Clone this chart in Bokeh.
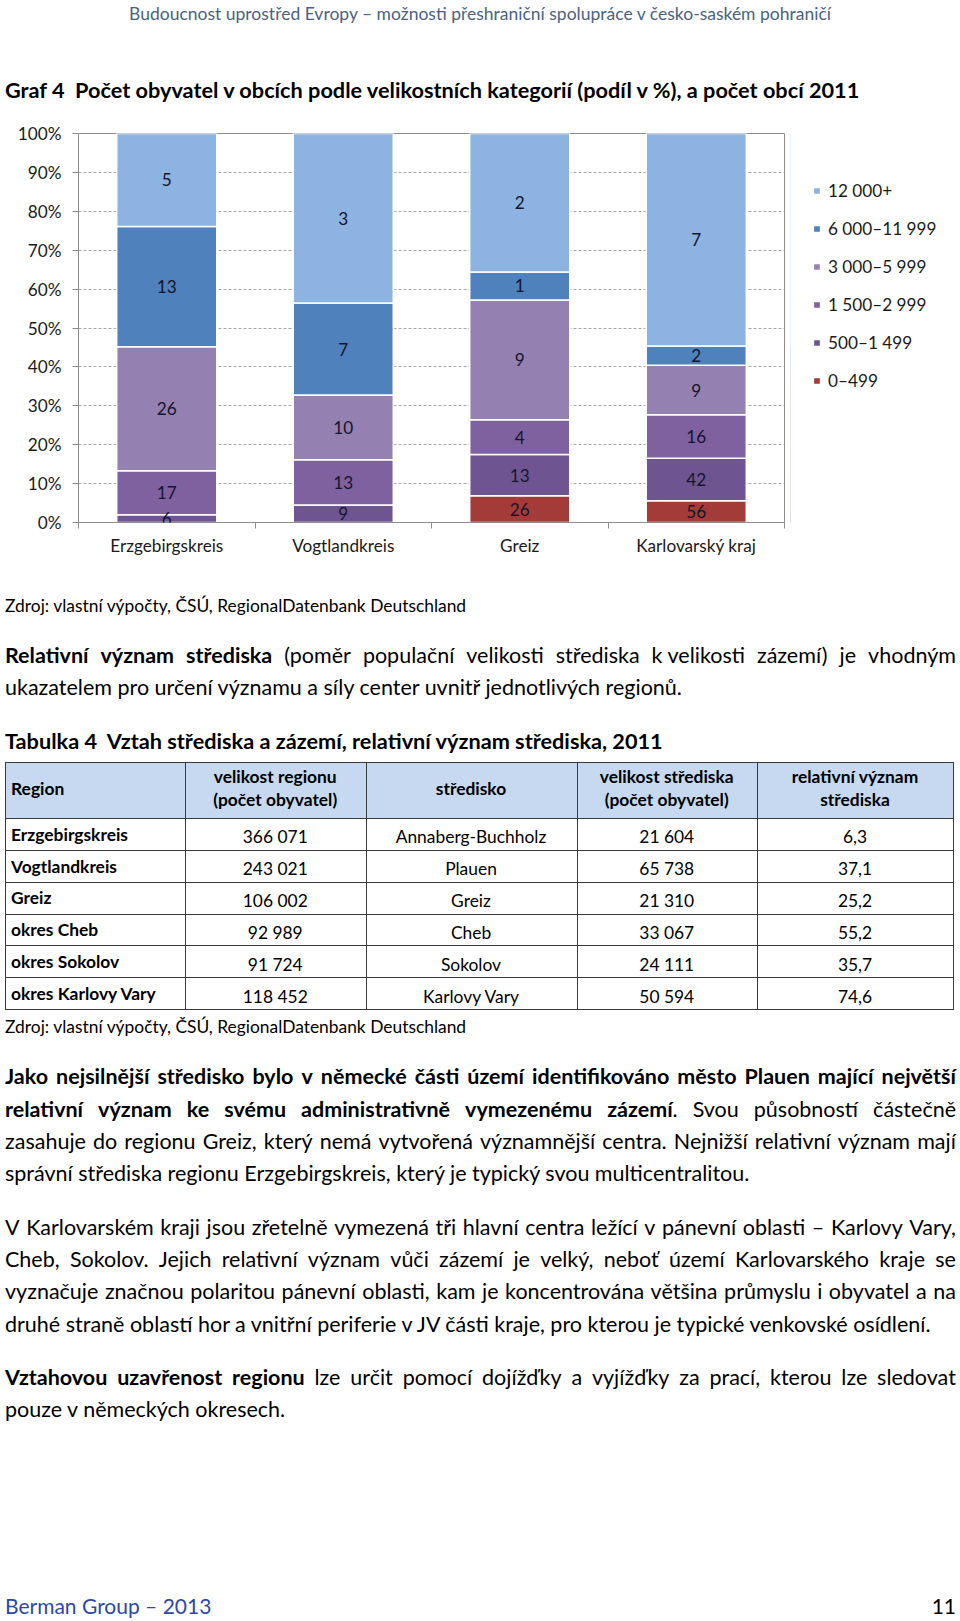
import numpy as np
from bokeh.plotting import figure
from bokeh.models import (ColumnDataSource, Range1d, FixedTicker, PrintfTickFormatter,
                          Legend, LegendItem, LabelSet, Div)
from bokeh.layouts import column, row
from bokeh.core.properties import value
from bokeh.embed import file_html
from bokeh.resources import INLINE

# ---------------- chart data ----------------
categories = ["Erzgebirgskreis", "Vogtlandkreis", "Greiz", "Karlovarský kraj"]
size_classes = ["0–499", "500–1 499", "1 500–2 999", "3 000–5 999", "6 000–11 999", "12 000+"]

# share of population (%) by municipality size class
share_0_499 = [0.0, 0.0, 6.9, 5.6]
share_500_1499 = [2.0, 4.5, 10.6, 10.9]
share_1500_2999 = [11.3, 11.6, 8.9, 11.2]
share_3000_5999 = [31.9, 16.7, 30.8, 12.7]
share_6000_11999 = [30.9, 23.6, 7.2, 5.0]
share_12000 = [23.9, 43.6, 35.6, 54.6]

# number of municipalities by size class
count_0_499 = [0, 0, 26, 56]
count_500_1499 = [6, 9, 13, 42]
count_1500_2999 = [17, 13, 4, 16]
count_3000_5999 = [26, 10, 9, 9]
count_6000_11999 = [13, 7, 1, 2]
count_12000 = [5, 3, 2, 7]

y_ticks = [0, 10, 20, 30, 40, 50, 60, 70, 80, 90, 100]

# ---------------- table data ----------------
table_header = [["Region"], ["velikost regionu", "(počet obyvatel)"], ["středisko"],
                ["velikost střediska", "(počet obyvatel)"], ["relativní význam", "střediska"]]
regions = ["Erzgebirgskreis", "Vogtlandkreis", "Greiz", "okres Cheb", "okres Sokolov", "okres Karlovy Vary"]
region_pop = ["366 071", "243 021", "106 002", "92 989", "91 724", "118 452"]
centres = ["Annaberg-Buchholz", "Plauen", "Greiz", "Cheb", "Sokolov", "Karlovy Vary"]
centre_pop = ["21 604", "65 738", "21 310", "33 067", "24 111", "50 594"]
rel_importance = ["6,3", "37,1", "25,2", "55,2", "35,7", "74,6"]

# ---------------- texts ----------------
header_text = "Budoucnost uprostřed Evropy – možnosti přeshraniční spolupráce v česko-saském pohraničí"
chart_title = "Graf 4  Počet obyvatel v obcích podle velikostních kategorií (podíl v %), a počet obcí 2011"
source_text = "Zdroj: vlastní výpočty, ČSÚ, RegionalDatenbank Deutschland"
table_title = "Tabulka 4  Vztah střediska a zázemí, relativní význam střediska, 2011"
para1 = [("**Relativní význam střediska** (poměr populační velikosti střediska k\u00a0velikosti zázemí) je vhodným", True),
         ("ukazatelem pro určení významu a síly center uvnitř jednotlivých regionů.", False)]
para2 = [("**Jako nejsilnější středisko bylo v německé části území identifikováno město Plauen mající největší**", True),
         ("**relativní význam ke svému administrativně vymezenému zázemí**. Svou působností částečně", True),
         ("zasahuje do regionu Greiz, který nemá vytvořená významnější centra. Nejnižší relativní význam mají", True),
         ("správní střediska regionu Erzgebirgskreis, který je typický svou multicentralitou.", False)]
para3 = [("V Karlovarském kraji jsou zřetelně vymezená tři hlavní centra ležící v pánevní oblasti – Karlovy Vary,", True),
         ("Cheb, Sokolov. Jejich relativní význam vůči zázemí je velký, neboť území Karlovarského kraje se", True),
         ("vyznačuje značnou polaritou pánevní oblasti, kam je koncentrována většina průmyslu i obyvatel a na", True),
         ("druhé straně oblastí hor a vnitřní periferie v JV části kraje, pro kterou je typické venkovské osídlení.", False)]
para4 = [("**Vztahovou uzavřenost regionu** lze určit pomocí dojížďky a vyjížďky za prací, kterou lze sledovat", True),
         ("pouze v německých okresech.", False)]
footer_left = "Berman Group – 2013"
footer_right = "11"

FONT = "Lato"
CFS = "17.2px"   # chart font size
colors = ["#a33b38", "#6e5591", "#7f61a0", "#9480b1", "#4f81bd", "#8db3e2"]
W = 960
CH = 460          # chart row height
PW = 790          # chart figure width

# ---------------- chart ----------------
share_series = [share_0_499, share_500_1499, share_1500_2999, share_3000_5999, share_6000_11999, share_12000]
count_series = [count_0_499, count_500_1499, count_1500_2999, count_3000_5999, count_6000_11999, count_12000]
keys = ["s%d" % i for i in range(len(size_classes))]
n = len(categories)
xpos = np.arange(n) + 0.5
data = {"x": xpos}
for k, s in zip(keys, share_series):
    data[k] = s
src = ColumnDataSource(data)

p = figure(width=PW, height=CH, x_range=Range1d(0, n), y_range=Range1d(0, 100),
           output_backend="svg", toolbar_location=None,
           min_border_left=78, min_border_right=PW - 78 - 706, min_border_top=23, min_border_bottom=48)
p.background_fill_color = "white"
p.border_fill_color = "white"
p.outline_line_color = "#8c8c8c"

rends = p.vbar_stack(keys, x="x", width=0.567, fill_color=colors, line_color="white",
                     line_width=1.5, source=src)

lx, ly, lt = [], [], []
cum = np.zeros(n)
for shares, counts in zip(share_series, count_series):
    sh = np.array(shares, dtype=float)
    for i in range(n):
        if counts[i] > 0:
            lx.append(xpos[i]); ly.append(cum[i] + sh[i] / 2.0); lt.append(str(counts[i]))
    cum += sh
lsrc = ColumnDataSource(dict(x=lx, y=ly, t=lt))
p.add_layout(LabelSet(x="x", y="y", text="t", source=lsrc, text_align="center", text_baseline="middle",
                      text_font=value(FONT), text_font_size=CFS, text_color="#15152a"))

yax = p.yaxis[0]
yax.ticker = FixedTicker(ticks=y_ticks)
yax.formatter = PrintfTickFormatter(format="%d%%")
yax.axis_line_color = "#8c8c8c"
yax.major_tick_line_color = "#8c8c8c"
yax.major_tick_out = 6
yax.major_tick_in = 0
yax.minor_tick_line_color = None
yax.major_label_standoff = 11
yax.major_label_text_font = FONT
yax.major_label_text_font_size = CFS
yax.major_label_text_color = "#1a1a1a"

xax = p.xaxis[0]
xax.ticker = FixedTicker(ticks=list(xpos), minor_ticks=list(range(n + 1)))
xax.major_label_overrides = {float(xv): c for xv, c in zip(xpos, categories)}
xax.axis_line_color = "#8c8c8c"
xax.major_tick_line_color = None
xax.minor_tick_line_color = "#8c8c8c"
xax.minor_tick_out = 6
xax.minor_tick_in = 0
xax.major_label_standoff = 6
xax.major_label_text_font = FONT
xax.major_label_text_font_size = CFS
xax.major_label_text_color = "#1a1a1a"

p.xgrid.visible = False
p.ygrid.ticker = yax.ticker
p.ygrid.grid_line_color = "#a6a6a6"
p.ygrid.grid_line_dash = "3 2"

# legend lives in its own narrow figure to the right of the chart
pl = figure(width=W - PW, height=CH, x_range=Range1d(100, 101), y_range=Range1d(0, 100),
            output_backend="svg", toolbar_location=None, x_axis_location=None, y_axis_location=None,
            min_border=0)
pl.outline_line_color = None
pl.grid.visible = False
pl.background_fill_color = "white"
pl.border_fill_color = "white"
lrends = pl.vbar_stack(keys, x="x", width=0.567, fill_color=colors, line_color="white",
                       line_width=1.5, source=src)
items = [LegendItem(label=lab, renderers=[r]) for lab, r in reversed(list(zip(size_classes, lrends)))]
legend = Legend(items=items, location=(22, 131), orientation="vertical",
                glyph_width=9, glyph_height=9, label_height=9, spacing=17, padding=0, margin=0,
                border_line_color=None, background_fill_alpha=0, label_standoff=7,
                label_text_font=FONT, label_text_font_size=CFS, label_text_color="#1a1a1a")
pl.add_layout(legend)

# ---------------- html helpers ----------------
def words_html(line):
    out = []
    bold = False
    for w in line.split(" "):
        parts = w.split("**")
        h = ""
        for j, part in enumerate(parts):
            if j > 0:
                bold = not bold
            if part:
                h += ("<b>%s</b>" % part) if bold else part
        out.append(h)
    return out


def text_div(x, yc, html, size, offy, weight="normal", color="#000", align="left", width=None):
    top = yc - offy - 0.64 * size
    if align == "left":
        pos = "left:%.1fpx;" % x
    elif align == "center":
        pos = "left:%.1fpx;width:%.1fpx;text-align:center;" % (x - width / 2, width)
    else:
        pos = "left:%.1fpx;width:%.1fpx;text-align:right;" % (x - width, width)
    return ('<div style="position:absolute;%stop:%.1fpx;font-size:%.1fpx;line-height:%.1fpx;'
            'font-weight:%s;color:%s;white-space:pre;">%s</div>'
            % (pos, top, size, 1.2 * size, weight, color, html))


BODY = 21.5


def para_html(lines, ycs, offy, size=BODY, x0=5, x1=956):
    out = ""
    for (line, just), yc in zip(lines, ycs):
        ws = words_html(line)
        top = yc - offy - 0.64 * size
        if just:
            spans = "".join("<span>%s</span>" % w for w in ws)
            out += ('<div style="position:absolute;left:%.1fpx;top:%.1fpx;width:%.1fpx;font-size:%.1fpx;'
                    'line-height:%.1fpx;display:flex;justify-content:space-between;white-space:nowrap;">%s</div>'
                    % (x0, top, x1 - x0, size, 1.2 * size, spans))
        else:
            out += text_div(x0, yc, " ".join(ws), size, offy)
    return out


CONT = '<div style="position:relative;width:%dpx;height:%dpx;font-family:Lato,sans-serif;color:#000;">%s</div>'

# ---------------- top div (page y 0..110) ----------------
oy = 0
top_html = ""
top_html += text_div(480, 14.5, header_text, 17.5, oy, color="#4a6282", align="center", width=950)
top_html += text_div(5, 91, chart_title, 21.7, oy, weight="bold")
top_div = Div(text=CONT % (W, 110, top_html), width=W, height=110, margin=(0, 0, 0, 0),
              styles={"overflow": "visible"})

# ---------------- bottom div (page y 570..1621) ----------------
oy = 110 + CH
BH = 1621 - oy
b = ""
b += text_div(5, 607, source_text, 17.4, oy)
b += para_html(para1, [657, 689], oy)
b += text_div(5, 742, table_title, 21.7, oy, weight="bold")

tx = [4.5, 185, 365.5, 576.5, 757, 953]
t_top, t_head, row_h = 761.7, 817.7, 31.93
nrows = len(regions)
t_bot = t_head + nrows * row_h
LC = "#3a3a3a"
b += ('<div style="position:absolute;left:%.1fpx;top:%.1fpx;width:%.1fpx;height:%.1fpx;background:#c6d9f1;"></div>'
      % (tx[0], t_top - oy, tx[-1] - tx[0], t_head - t_top))
for yy in [t_top, t_head] + [t_head + (k + 1) * row_h for k in range(nrows)]:
    b += ('<div style="position:absolute;left:%.1fpx;top:%.1fpx;width:%.1fpx;height:1px;background:%s;"></div>'
          % (tx[0], yy - oy, tx[-1] - tx[0] + 1, LC))
for xx in tx:
    b += ('<div style="position:absolute;left:%.1fpx;top:%.1fpx;width:1px;height:%.1fpx;background:%s;"></div>'
          % (xx, t_top - oy, t_bot - t_top, LC))
TS = 17.4
hc = (t_top + t_head) / 2
for ci, lines in enumerate(table_header):
    if ci == 0:
        b += text_div(11, hc, lines[0], TS, oy, weight="bold")
        continue
    cx = (tx[ci] + tx[ci + 1]) / 2
    if len(lines) == 1:
        b += text_div(cx, hc, lines[0], TS, oy, weight="bold", align="center", width=tx[ci + 1] - tx[ci])
    else:
        for li, ln in enumerate(lines):
            b += text_div(cx, hc - 11.5 + 23 * li, ln, TS, oy, weight="bold", align="center",
                          width=tx[ci + 1] - tx[ci])
cols = [region_pop, centres, centre_pop, rel_importance]
for r in range(nrows):
    rt = t_head + r * row_h
    b += text_div(11, rt + 18, regions[r], TS, oy, weight="bold")
    for ci, col in enumerate(cols, start=1):
        cx = (tx[ci] + tx[ci + 1]) / 2
        b += text_div(cx, rt + 20.6, col[r], TS, oy, align="center", width=tx[ci + 1] - tx[ci])

b += text_div(5, 1028, source_text, 17.4, oy)
b += para_html(para2, [1078, 1111, 1143, 1175], oy)
b += para_html(para3, [1229, 1261, 1293, 1326], oy)
b += para_html(para4, [1378.5, 1410.6], oy)
b += text_div(5, 1606, footer_left, 21, oy, color="#2d47a8")
b += text_div(956, 1606, footer_right, 21, oy, align="right", width=60)

bottom_div = Div(text=CONT % (W, BH, b), width=W, height=BH, margin=(0, 0, 0, 0),
                 styles={"overflow": "visible"})

layout = column(top_div, row(p, pl, spacing=0), bottom_div, spacing=0)
open("out.html", "w").write(file_html(layout, INLINE))
